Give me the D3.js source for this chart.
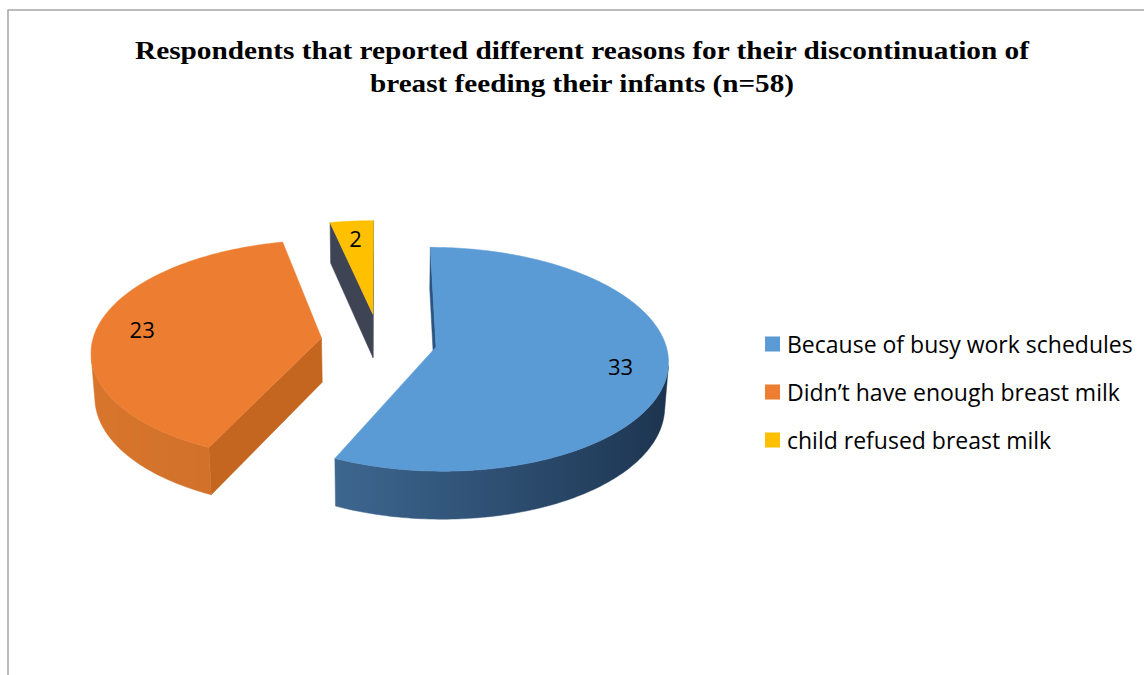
<!DOCTYPE html>
<html>
<head>
<meta charset="utf-8">
<script src="https://cdn.jsdelivr.net/npm/d3@7"></script>
<style>
  html, body { margin: 0; padding: 0; background: #fff; }
  svg { display: block; }
</style>
</head>
<body>
<script>
// Reasons given for stopping breastfeeding (n = 58)
const categories = [
  "Because of busy work schedules",
  "Didn\u2019t have enough breast milk",
  "child refused breast milk"
];
const values = [33, 23, 2];
const titleLines = [
  "Respondents that reported different reasons for their discontinuation of",
  "breast feeding their infants (n=58)"
];

// Fills: top face, lit/shaded outer wall, cut (radial) wall
const topFill    = ["#5B9BD5", "#ED7D31", "#FFC000"];
const wallLight  = ["#4b7cab", "#d8762c", "#d9a300"];
const wallDark   = ["#1b324d", "#c36524", "#a67c00"];
const radialFill = ["#2b5580", "#c4661f", "#3f4454"];

const W = 1144, H = 675;
const svg = d3.select("body").append("svg").attr("width", W).attr("height", H);
const defs = svg.append("defs");

// chart frame
svg.append("rect")
  .attr("x", 8).attr("y", 10).attr("width", W + 20).attr("height", H + 20)
  .attr("fill", "none").attr("stroke", "#a6a6a6").attr("stroke-width", 1.5);

// title
const titleG = svg.append("g")
  .attr("font-family", "'Liberation Serif', 'Times New Roman', serif")
  .attr("font-weight", "bold").attr("font-size", 25).attr("fill", "#000");
const titleWidths = [894, 424];
const titleBase = [59, 92];
titleLines.forEach((t, i) => {
  titleG.append("text")
    .attr("x", 582).attr("y", titleBase[i]).attr("text-anchor", "middle").text(t)
    .attr("textLength", titleWidths[i]).attr("lengthAdjust", "spacingAndGlyphs");
});

// ---- 3D exploded pie ----
const R = 229;          // pie radius
const depth = 51;       // slab thickness
const explode = 58;     // slice offset from centre
const tilt = 28.5 * Math.PI / 180;
const dist = 1845;      // camera distance (perspective)
const cx = 379, cy = 341;
const sinA = Math.sin(tilt), cosA = Math.cos(tilt);
const cam = [0, dist * sinA, dist * cosA];

function project(X, Y, Z) {
  const u = Y * cosA - Z * sinA;
  const w = Y * sinA + Z * cosA;
  const f = dist / (dist - w);
  return [cx + X * f, cy - u * f, w];
}
function visible(n, p) {
  return n[0] * (cam[0] - p[0]) + n[1] * (cam[1] - p[1]) + n[2] * (cam[2] - p[2]) > 0;
}

const arcs = d3.pie().sort(null).value(d => d)(values);
const step = Math.PI / 180;

const slices = arcs.map((a, i) => {
  const mid = (a.startAngle + a.endAngle) / 2;
  const ox = explode * Math.sin(mid), oz = -explode * Math.cos(mid);
  const pt = (th, r, Y) => [ox + r * Math.sin(th), Y, oz - r * Math.cos(th)];
  const n = Math.max(2, Math.ceil((a.endAngle - a.startAngle) / step));
  const angles = d3.range(n + 1).map(k => a.startAngle + (a.endAngle - a.startAngle) * k / n);
  const faces = [];

  // outer curved wall: contiguous runs of camera-facing segments
  const shade = d3.scaleLinear().domain([1, -1]).range([wallDark[i], wallLight[i]])
    .interpolate(d3.interpolateRgb);
  let run = null;
  const runs = [];
  for (let k = 0; k < n; k++) {
    const tm = (angles[k] + angles[k + 1]) / 2;
    const nrm = [Math.sin(tm), 0, -Math.cos(tm)];
    if (visible(nrm, pt(tm, R, -depth / 2))) {
      if (!run) { run = [angles[k]]; runs.push(run); }
      run.push(angles[k + 1]);
    } else run = null;
  }
  runs.forEach((r, ri) => {
    const topArc = r.map(th => pt(th, R, 0));
    const botArc = r.map(th => pt(th, R, -depth)).reverse();
    const id = `wall-${i}-${ri}`;
    const xs = r.map(th => project(...pt(th, R, 0))[0]);
    const x0 = d3.min(xs), x1 = d3.max(xs);
    const grad = defs.append("linearGradient").attr("id", id)
      .attr("gradientUnits", "userSpaceOnUse")
      .attr("x1", x0).attr("x2", x1).attr("y1", 0).attr("y2", 0);
    r.map((th, k) => ({ off: x1 > x0 ? (xs[k] - x0) / (x1 - x0) : 0, c: shade(Math.sin(th)) }))
      .sort((p, q) => p.off - q.off)
      .forEach(s => grad.append("stop").attr("offset", s.off).attr("stop-color", s.c));
    const midTh = r[Math.floor(r.length / 2)];
    faces.push({ pts: topArc.concat(botArc), fill: `url(#${id})`,
                 w: project(...pt(midTh, R, -depth / 2))[2] });
  });

  // radial cut walls
  [[a.startAngle, [-Math.cos(a.startAngle), 0, -Math.sin(a.startAngle)]],
   [a.endAngle,   [ Math.cos(a.endAngle),   0,  Math.sin(a.endAngle)]]].forEach(([th, nrm]) => {
    const pm = pt(th, R / 2, -depth / 2);
    if (!visible(nrm, pm)) return;
    const q = [pt(th, 0, 0), pt(th, R, 0), pt(th, R, -depth), pt(th, 0, -depth)];
    faces.push({ pts: q, fill: radialFill[i], w: project(...pm)[2] });
  });
  faces.sort((p, q) => p.w - q.w);

  const top = [pt(0, 0, 0)].concat(angles.map(th => pt(th, R, 0)));
  const apexW = project(ox, 0, oz)[2];
  const lab = project(...pt(mid, R * 0.8, 0));
  return { i, faces, top, apexW, lab, value: a.data };
});

const line = d3.line();
const toScreen = pts => pts.map(p => project(...p).slice(0, 2));
const pieG = svg.append("g");
slices.slice().sort((p, q) => p.apexW - q.apexW).forEach(s => {
  const g = pieG.append("g");
  s.faces.forEach(f => {
    g.append("path").attr("d", line(toScreen(f.pts)) + "Z")
      .attr("fill", f.fill).attr("stroke", f.fill).attr("stroke-width", 0.5)
      .attr("stroke-linejoin", "round");
  });
  g.append("path").attr("d", line(toScreen(s.top)) + "Z")
    .attr("fill", topFill[s.i]).attr("stroke", topFill[s.i]).attr("stroke-width", 0.5);
});

// value labels
svg.append("g").attr("font-family", "'Open Sans', 'Noto Sans', sans-serif")
  .attr("font-size", 22).attr("fill", "#000")
  .selectAll("text").data(slices).join("text")
  .attr("x", d => d.lab[0]).attr("y", d => d.lab[1])
  .attr("text-anchor", "middle").attr("dominant-baseline", "central")
  .text(d => d.value);

// legend
const rowY = d3.scalePoint().domain(categories).range([344, 440]);
const leg = svg.append("g").attr("font-family", "'Open Sans', 'Noto Sans', sans-serif")
  .attr("font-size", 23).attr("fill", "#000");
const rows = leg.selectAll("g").data(categories).join("g")
  .attr("transform", d => `translate(0,${rowY(d)})`);
rows.append("rect").attr("x", 765).attr("y", -7.5).attr("width", 15).attr("height", 15)
  .attr("fill", (d, i) => topFill[i]);
rows.append("text").attr("x", 787).attr("y", 8.5).text(d => d);
</script>
</body>
</html>
